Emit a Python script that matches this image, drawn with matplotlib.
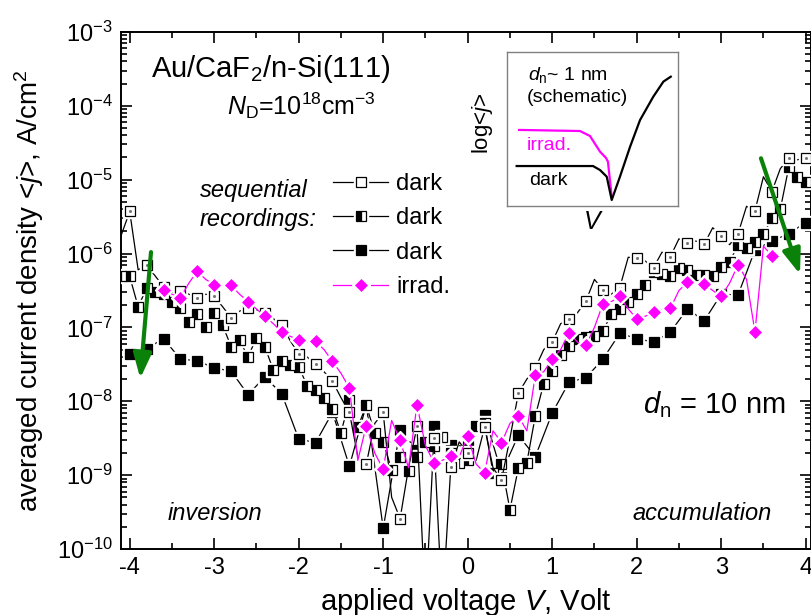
import numpy as np
import matplotlib
matplotlib.use("Agg")
import matplotlib.pyplot as plt
from matplotlib.lines import Line2D
from matplotlib.legend_handler import HandlerTuple
from matplotlib.ticker import MultipleLocator, LogLocator, LogFormatterSciNotation, NullFormatter

plt.rcParams['font.family'] = ['Liberation Sans', 'DejaVu Sans']
plt.rcParams['mathtext.fontset'] = 'custom'
plt.rcParams['mathtext.rm'] = 'Liberation Sans'
plt.rcParams['mathtext.it'] = 'Liberation Sans:italic'
plt.rcParams['mathtext.default'] = 'regular'
plt.rcParams['axes.unicode_minus'] = False

FIG_W, FIG_H = 812, 615

# voltage grids (Volt)
volt_fine   = np.round(np.linspace(-4.1, 4.0, 82), 1)   # dark 1 and dark 2
volt_coarse = np.round(np.linspace(-4.0, 4.0, 41), 1)   # dark 3
volt_irrad  = np.round(np.linspace(-3.6, 3.6, 73), 1)   # irradiated

# log10 of averaged current density <j> (A/cm^2)
logj_dark1 = [
    -5.75, -5.43, -6.22, -6.16, -6.30, -6.45, -6.52, -6.50, -6.55, -6.60,
    -6.55, -6.58, -6.72, -6.87, -6.78, -6.74, -6.76, -6.80, -6.88, -6.97,
    -7.18, -7.36, -7.40, -7.50, -7.60, -7.73, -7.95, -8.15, -8.75, -8.85,
    -8.30, -8.15, -9.30, -9.59, -8.90, -8.34, -10.8, -8.50, -10.8, -8.89,
    -8.55, -8.70, -8.80, -8.35, -8.90, -9.07, -8.50, -7.89, -7.70, -7.55,
    -7.30, -7.20, -6.95, -6.89, -6.80, -6.64, -6.35, -6.49, -6.55, -6.46,
    -6.05, -6.06, -6.10, -6.19, -5.98, -6.04, -5.80, -5.86, -5.83, -5.87,
    -5.65, -5.76, -5.88, -5.73, -5.36, -5.42, -4.96, -5.16, -4.85, -4.71,
    -4.73, -4.71,
]
logj_dark2 = [
    -6.30, -6.31, -6.72, -6.47, -6.52, -6.55, -6.66, -6.74, -6.92, -6.82,
    -7.00, -6.80, -6.97, -7.26, -7.17, -7.40, -7.14, -7.26, -7.58, -7.46,
    -7.51, -7.53, -7.79, -7.85, -7.96, -8.10, -8.43, -7.98, -8.35, -8.05,
    -8.43, -8.55, -8.93, -8.75, -8.95, -8.75, -8.55, -8.60, -8.48, -8.70,
    -8.84, -8.80, -8.33, -8.30, -8.97, -8.85, -9.47, -8.90, -8.83, -8.20,
    -7.76, -7.59, -7.37, -7.25, -7.15, -7.13, -7.12, -7.05, -6.82, -6.75,
    -6.65, -6.55, -6.43, -6.25, -6.27, -6.30, -6.20, -6.22, -6.29, -6.29,
    -6.30, -6.18, -6.11, -5.88, -5.93, -5.84, -5.74, -5.52, -5.40, -4.83,
    -4.96, -5.03,
]
logj_dark3 = [
    -7.36, -7.29, -7.15, -7.43, -7.45, -7.55, -7.59, -7.91, -7.67, -7.90,
    -8.51, -8.56, -8.15, -8.88, -8.05, -9.72, -8.39, -8.66, -8.34, -8.59,
    -8.61, -8.19, -8.97, -8.46, -8.75, -8.16, -7.74, -7.68, -7.43, -7.08,
    -7.15, -7.20, -7.06, -6.75, -6.91, -6.55, -6.56, -5.95, -5.83, -5.73,
    -5.58,
]
logj_irrad = [
    -6.49, -6.55, -6.60, -6.40, -6.24, -6.35, -6.42, -6.42, -6.43, -6.55,
    -6.65, -6.75, -6.85, -6.95, -7.06, -7.12, -7.17, -7.20, -7.19, -7.30,
    -7.46, -7.62, -7.82, -8.80, -8.33, -8.70, -8.92, -8.26, -8.53, -8.90,
    -8.05, -8.60, -8.83, -8.80, -8.74, -8.75, -8.47, -8.85, -8.97, -8.40,
    -8.56, -8.30, -8.20, -8.40, -7.65, -7.60, -7.43, -7.30, -7.07, -7.20,
    -7.24, -7.00, -6.68, -6.65, -6.58, -6.75, -6.88, -6.85, -6.79, -6.75,
    -6.74, -6.50, -6.39, -6.40, -6.41, -6.50, -6.58, -6.40, -6.15, -6.35,
    -7.06, -5.90, -6.03,
]
legend_labels = ["dark", "dark", "dark", "irrad."]

# schematic inset (d_n ~ 1 nm), in inset axes fractions
sketch_irrad_x = [0.072, 0.427, 0.485, 0.544, 0.579, 0.590, 0.612]
sketch_irrad_y = [0.493, 0.486, 0.454, 0.352, 0.311, 0.287, 0.060]
sketch_dark_x  = [0.058, 0.503, 0.544, 0.583, 0.612, 0.660, 0.719, 0.777, 0.854, 0.913, 0.956]
sketch_dark_y  = [0.259, 0.259, 0.233, 0.190, 0.039, 0.190, 0.384, 0.557, 0.708, 0.806, 0.838]

# green arrows: (V, log10 j) start -> end
arrow_left  = ((-3.748, -5.98), (-3.875, -7.69))
arrow_right = ((3.471, -4.71), (3.933, -6.28))

MAGENTA = '#ff00ff'
GREEN   = '#0a820a'


def px(x, y):
    # pixel position in the 812x615 picture -> figure fraction
    return x / FIG_W, 1 - y / FIG_H


def series_styles():
    sq = dict(marker='s', ms=6.5, mec='black', mew=0.9)
    return [
        dict(sq, mfc='white'),
        dict(sq, mfc='black', fillstyle='left', markerfacecoloralt='white'),
        dict(sq, mfc='black'),
        dict(marker='D', ms=6.0, mfc=MAGENTA, mec=MAGENTA, mew=0.5),
    ]


def draw_series(ax, v, logj, style, color, z, every):
    j = 10.0 ** np.asarray(logj)
    ax.plot(v, j, '-', color=color, lw=0.9, zorder=z)
    # white halo gives the gap between line and symbol
    ax.plot(v, j, ls='none', marker=style['marker'], ms=style['ms'] + 3,
            mfc='white', mec='white', markevery=every, zorder=z + 0.01)
    ax.plot(v, j, ls='none', markevery=every, zorder=z + 0.02, **style)


def legend_handle(style, color):
    line = Line2D([], [], ls='-', color=color, lw=0.9)
    halo = Line2D([], [], ls='none', marker=style['marker'], ms=style['ms'] + 3,
                  mfc='white', mec='white')
    mark = Line2D([], [], ls='none', **style)
    return (line, halo, mark)


def main():
    fig = plt.figure(figsize=(FIG_W / 100, FIG_H / 100), dpi=100)
    ax = fig.add_axes([121 / FIG_W, 1 - 549 / FIG_H, 690 / FIG_W, 517 / FIG_H])

    styles = series_styles()
    colors = ['black', 'black', 'black', MAGENTA]
    draw_series(ax, volt_coarse, logj_dark3, styles[2], colors[2], 3, 1)
    draw_series(ax, volt_fine, logj_dark2, styles[1], colors[1], 4, 1)
    draw_series(ax, volt_fine, logj_dark1, styles[0], colors[0], 5, slice(1, None, 2))
    # tiny centre dot of the open squares
    ax.plot(volt_fine, 10.0 ** np.asarray(logj_dark1), ls='none', marker='s', ms=1.0,
            color='#707070', markevery=slice(1, None, 2), zorder=5.03)
    draw_series(ax, volt_irrad, logj_irrad, styles[3], colors[3], 6, slice(0, None, 2))

    for (x0, y0), (x1, y1) in [arrow_left, arrow_right]:
        ax.annotate('', xy=(x1, 10 ** y1), xytext=(x0, 10 ** y0),
                    arrowprops=dict(arrowstyle='-|>,head_length=0.6,head_width=0.22',
                                    color=GREEN, lw=3, mutation_scale=25,
                                    shrinkA=0, shrinkB=0), zorder=8)

    ax.set_yscale('log')
    ax.set_xlim(-4.103, 4.063)
    ax.set_ylim(1e-10, 1e-3)
    ax.xaxis.set_major_locator(MultipleLocator(1))
    ax.xaxis.set_minor_locator(MultipleLocator(0.5))
    ax.yaxis.set_major_locator(LogLocator(base=10, numticks=20))
    ax.yaxis.set_minor_locator(LogLocator(base=10, subs=np.arange(2, 10), numticks=20))
    ax.yaxis.set_major_formatter(LogFormatterSciNotation())
    ax.yaxis.set_minor_formatter(NullFormatter())
    ax.tick_params(which='both', direction='in', top=True, right=True, width=1.2)
    ax.tick_params(which='major', length=8, labelsize=17, pad=6)
    ax.tick_params(which='minor', length=4)
    for sp in ax.spines.values():
        sp.set_linewidth(1.4)

    ax.set_ylabel(r'averaged current density <$\mathit{j}$>, A/cm$^2$', fontsize=20)
    ax.yaxis.set_label_coords(-0.109, 0.5)
    ax.set_xlabel(r'applied voltage $\mathit{V}$, Volt', fontsize=21)
    ax.xaxis.set_label_coords(0.5, -0.071)

    handles = [legend_handle(s, c) for s, c in zip(styles, colors)]
    ax.legend(handles, legend_labels, handler_map={tuple: HandlerTuple(ndivide=1, pad=0)},
              loc='upper left', bbox_to_anchor=px(333, 173), bbox_transform=fig.transFigure,
              frameon=False, fontsize=17, handlelength=2.33, handletextpad=0.35,
              labelspacing=0.52, borderpad=0, borderaxespad=0)

    fig.text(*px(150.7, 77.3), r'Au/CaF$_2$/n-Si(111)', fontsize=21, va='baseline')
    fig.text(*px(226.7, 115), r'$\mathit{N}_{D}$=10$^{18}$cm$^{-3}$', fontsize=18, va='baseline')
    fig.text(*px(200, 196.7), 'sequential', fontsize=17, style='italic', va='baseline')
    fig.text(*px(200, 226), 'recordings:', fontsize=17, style='italic', va='baseline')
    fig.text(*px(643, 413), r'$\mathit{d}_{n}$ = 10 nm', fontsize=21, va='baseline')
    fig.text(*px(168, 520), 'inversion', fontsize=17, style='italic', va='baseline')
    fig.text(*px(632, 520), 'accumulation', fontsize=17, style='italic', va='baseline')

    # schematic inset
    ins = fig.add_axes([506.7 / FIG_W, 1 - 206 / FIG_H, 171.6 / FIG_W, 154.3 / FIG_H])
    ins.plot(sketch_irrad_x, sketch_irrad_y, color=MAGENTA, lw=1.6)
    ins.plot(sketch_dark_x, sketch_dark_y, color='black', lw=1.6)
    ins.set_xlim(0, 1)
    ins.set_ylim(0, 1)
    ins.set_xticks([])
    ins.set_yticks([])
    for sp in ins.spines.values():
        sp.set_color('#808080')
        sp.set_linewidth(1.0)
    fig.text(*px(528, 80), r'$\mathit{d}_{n}$~ 1 nm', fontsize=14, va='baseline')
    fig.text(*px(527, 101.7), '(schematic)', fontsize=14, va='baseline')
    fig.text(*px(527, 150), 'irrad.', fontsize=14, color=MAGENTA, va='baseline')
    fig.text(*px(529, 185), 'dark', fontsize=14, va='baseline')
    fig.text(*px(483, 123), r'log<$\mathit{j}$>', fontsize=16, rotation=90,
             ha='center', va='center')
    fig.text(*px(593, 222), r'$\mathit{V}$', fontsize=18, ha='center', va='center')

    fig.savefig('out.png', dpi=100)
    plt.close('all')


if __name__ == "__main__":
    main()
